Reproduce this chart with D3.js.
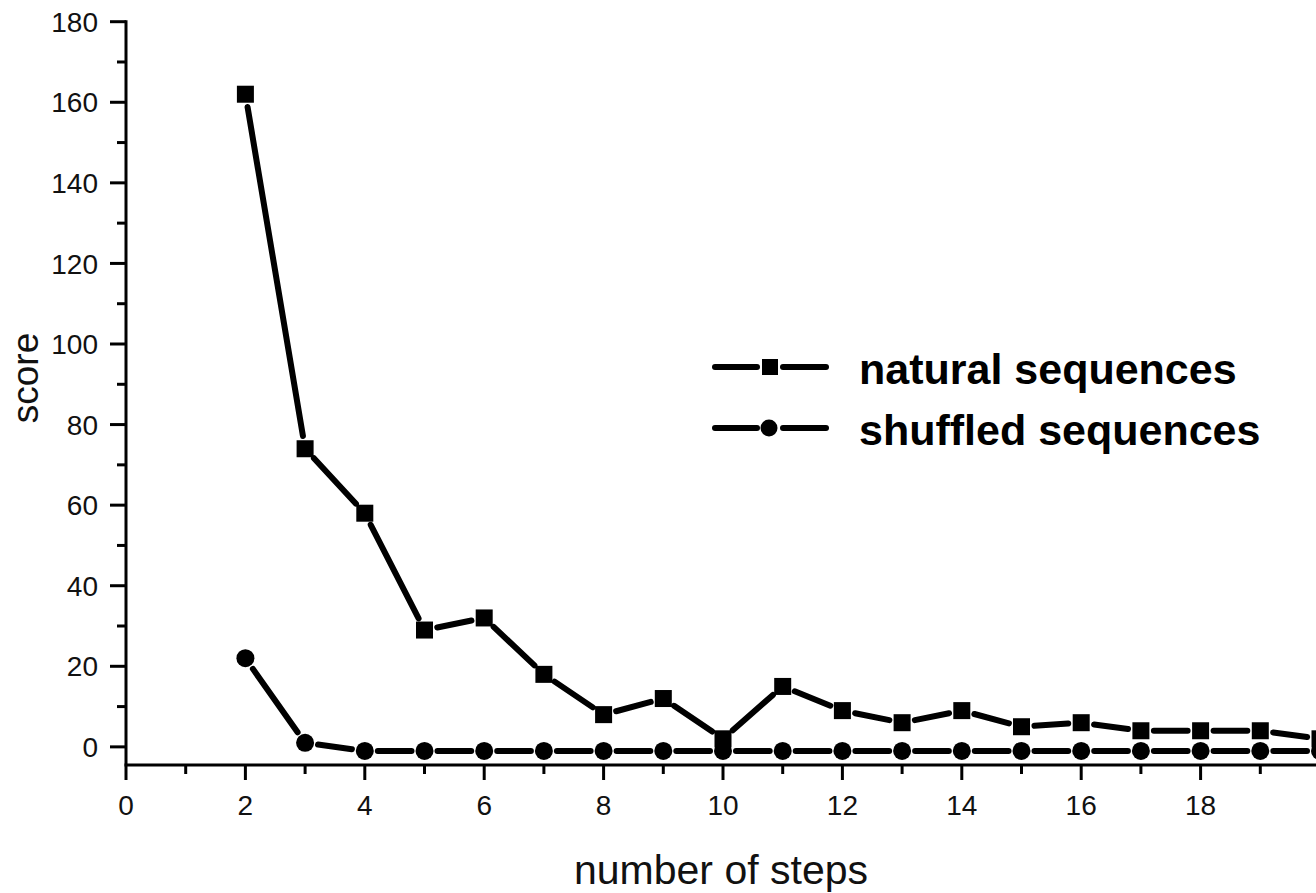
<!DOCTYPE html>
<html>
<head>
<meta charset="utf-8">
<script src="https://cdn.jsdelivr.net/npm/d3@7"></script>
<style>
  body { margin: 0; background: #fff; }
  text { font-family: "Liberation Sans", Arial, sans-serif; fill: #111; }
</style>
</head>
<body>
<div id="chart"></div>
<script>
// data
var steps = [2, 3, 4, 5, 6, 7, 8, 9, 10, 11, 12, 13, 14, 15, 16, 17, 18, 19, 20];
var natural = [162, 74, 58, 29, 32, 18, 8, 12, 2, 15, 9, 6, 9, 5, 6, 4, 4, 4, 2];
var shuffled = [22, 1, -1, -1, -1, -1, -1, -1, -1, -1, -1, -1, -1, -1, -1, -1, -1, -1, -1];
var yTicks = [0, 20, 40, 60, 80, 100, 120, 140, 160, 180];
var xTicks = [0, 2, 4, 6, 8, 10, 12, 14, 16, 18];
var seriesNames = ["natural sequences", "shuffled sequences"];

var width = 1316, height = 893;

var svg = d3.select("#chart")
    .append("svg")
    .attr("width", width)
    .attr("height", height);

svg.append("rect")
    .attr("width", width)
    .attr("height", height)
    .attr("fill", "#fff");

var x = d3.scaleLinear().domain([0, 20]).range([126, 1320]);
var y = d3.scaleLinear().domain([-4.5, 180]).range([765, 21.7]);

// y axis
var yAxis = svg.append("g")
    .attr("transform", "translate(126,0)");
yAxis.append("line")
    .attr("x1", 0).attr("x2", 0)
    .attr("y1", y(180) - 1.5).attr("y2", y(-4.5))
    .attr("stroke", "#000")
    .attr("stroke-width", 3);
yAxis.selectAll(".major")
    .data(yTicks)
    .enter()
    .append("line")
    .attr("x1", -16).attr("x2", 0)
    .attr("y1", function(d) { return y(d); })
    .attr("y2", function(d) { return y(d); })
    .attr("stroke", "#000")
    .attr("stroke-width", 3);
yAxis.selectAll(".minor")
    .data(yTicks.slice(0, -1))
    .enter()
    .append("line")
    .attr("x1", -9).attr("x2", 0)
    .attr("y1", function(d) { return y(d + 10); })
    .attr("y2", function(d) { return y(d + 10); })
    .attr("stroke", "#000")
    .attr("stroke-width", 3);
yAxis.selectAll(".lbl")
    .data(yTicks)
    .enter()
    .append("text")
    .attr("x", -28)
    .attr("y", function(d) { return y(d); })
    .attr("dy", "0.36em")
    .attr("text-anchor", "end")
    .attr("font-size", "28px")
    .text(function(d) { return d; });

// x axis
var xAxis = svg.append("g")
    .attr("transform", "translate(0," + y(-4.5) + ")");
xAxis.append("line")
    .attr("x1", x(0) - 1.5).attr("x2", width)
    .attr("y1", 0).attr("y2", 0)
    .attr("stroke", "#000")
    .attr("stroke-width", 3);
xAxis.selectAll(".major")
    .data(xTicks.concat([20]))
    .enter()
    .append("line")
    .attr("x1", function(d) { return x(d); })
    .attr("x2", function(d) { return x(d); })
    .attr("y1", 0).attr("y2", 15)
    .attr("stroke", "#000")
    .attr("stroke-width", 3);
xAxis.selectAll(".minor")
    .data(xTicks)
    .enter()
    .append("line")
    .attr("x1", function(d) { return x(d + 1); })
    .attr("x2", function(d) { return x(d + 1); })
    .attr("y1", 0).attr("y2", 9)
    .attr("stroke", "#000")
    .attr("stroke-width", 3);
xAxis.selectAll(".lbl")
    .data(xTicks)
    .enter()
    .append("text")
    .attr("x", function(d) { return x(d); })
    .attr("y", 50)
    .attr("text-anchor", "middle")
    .attr("font-size", "28px")
    .text(function(d) { return d; });

// axis titles
svg.append("text")
    .attr("x", 721)
    .attr("y", 884)
    .attr("text-anchor", "middle")
    .attr("font-size", "41px")
    .text("number of steps");

svg.append("text")
    .attr("transform", "translate(38,378) rotate(-90)")
    .attr("text-anchor", "middle")
    .attr("font-size", "37px")
    .text("score");

// connecting lines with a small gap around each marker
function unit(d) {
    var dx = d[1][0] - d[0][0], dy = d[1][1] - d[0][1];
    var len = Math.sqrt(dx * dx + dy * dy);
    return [dx / len, dy / len];
}

function drawSeries(values, gap) {
    var pts = steps.map(function(s, i) { return [x(s), y(values[i])]; });
    svg.append("g")
        .selectAll("line")
        .data(d3.pairs(pts))
        .enter()
        .append("line")
        .attr("x1", function(d) { return d[0][0] + unit(d)[0] * gap; })
        .attr("y1", function(d) { return d[0][1] + unit(d)[1] * gap; })
        .attr("x2", function(d) { return d[1][0] - unit(d)[0] * gap; })
        .attr("y2", function(d) { return d[1][1] - unit(d)[1] * gap; })
        .attr("stroke", "#000")
        .attr("stroke-width", 6)
        .attr("stroke-linecap", "round");
    return pts;
}

var natPts = drawSeries(natural, 13);
var shufPts = drawSeries(shuffled, 13);

svg.append("g")
    .selectAll("rect")
    .data(natPts)
    .enter()
    .append("rect")
    .attr("x", function(d) { return d[0] - 8.5; })
    .attr("y", function(d) { return d[1] - 8.5; })
    .attr("width", 17)
    .attr("height", 17)
    .attr("fill", "#000");

svg.append("g")
    .selectAll("circle")
    .data(shufPts)
    .enter()
    .append("circle")
    .attr("cx", function(d) { return d[0]; })
    .attr("cy", function(d) { return d[1]; })
    .attr("r", 9)
    .attr("fill", "#000");

// legend
var legend = svg.append("g");
var legY = [367, 428];
legY.forEach(function(ly, i) {
    legend.append("line")
        .attr("x1", 715).attr("x2", 757)
        .attr("y1", ly).attr("y2", ly)
        .attr("stroke", "#000").attr("stroke-width", 6)
        .attr("stroke-linecap", "round");
    legend.append("line")
        .attr("x1", 783).attr("x2", 826)
        .attr("y1", ly).attr("y2", ly)
        .attr("stroke", "#000").attr("stroke-width", 6)
        .attr("stroke-linecap", "round");
    if (i === 0) {
        legend.append("rect")
            .attr("x", 762).attr("y", ly - 8)
            .attr("width", 16).attr("height", 16)
            .attr("fill", "#000");
    } else {
        legend.append("circle")
            .attr("cx", 769).attr("cy", ly)
            .attr("r", 8.5)
            .attr("fill", "#000");
    }
    legend.append("text")
        .attr("x", 859)
        .attr("y", ly + 17)
        .attr("font-size", "43px")
        .attr("font-weight", "bold")
        .style("fill", "#000")
        .text(seriesNames[i]);
});
</script>
</body>
</html>
